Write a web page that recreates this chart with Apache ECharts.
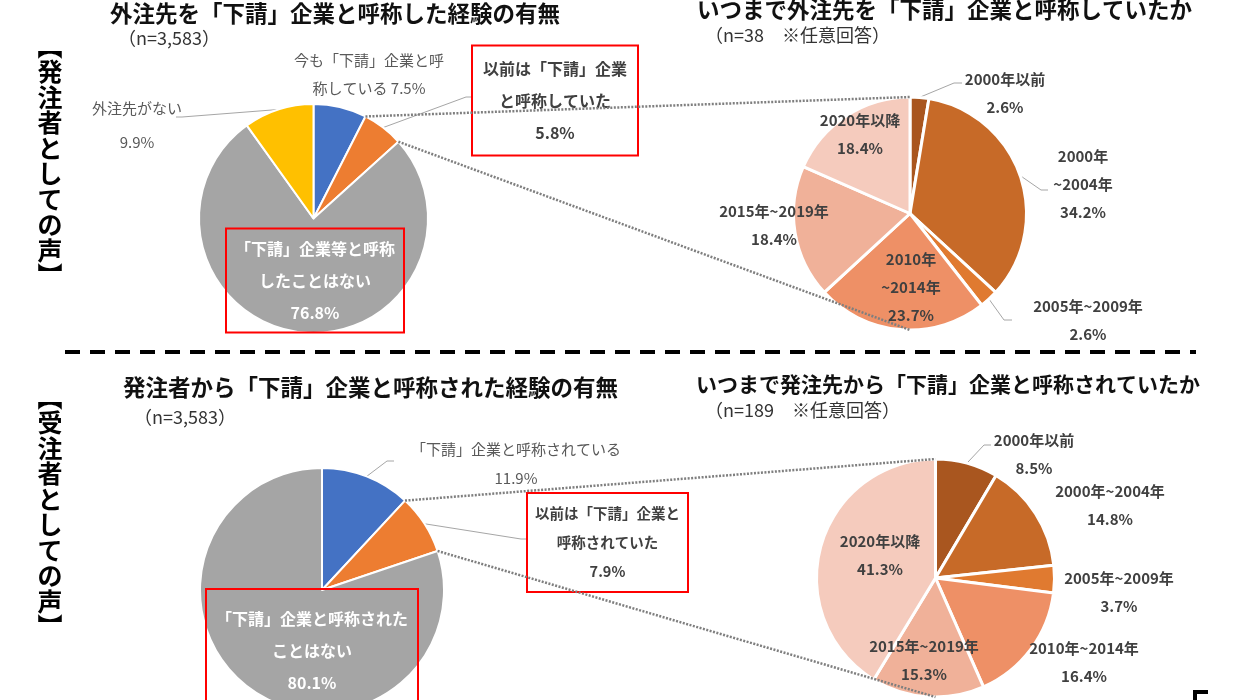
<!DOCTYPE html>
<html>
<head>
<meta charset="utf-8">
<script src="https://cdn.jsdelivr.net/npm/echarts@6/dist/echarts.min.js"></script>
<style>
  html, body { margin: 0; background: #fff; }
  #main { width: 1238px; height: 700px; }
</style>
</head>
<body>
<div id="main"></div>
<script>
var FONT = '"Noto Sans CJK JP", sans-serif';

// 発注者として: 「下請」と呼称した経験
var orderNames = ['今も「下請」企業と呼称している', '以前は「下請」企業と呼称していた', '「下請」企業等と呼称したことはない', '外注先がない'];
var orderValues = [7.5, 5.8, 76.8, 9.9];
var orderLabels = ['今も「下請」企業と呼\n称している ', '以前は「下請」企業\nと呼称していた\n', '「下請」企業等と呼称\nしたことはない\n', '外注先がない\n'];

// いつまで呼称していたか (n=38)
var periodNames = ['2000年以前', '2000年~2004年', '2005年~2009年', '2010年~2014年', '2015年~2019年', '2020年以降'];
var orderPeriodValues = [2.6, 34.2, 2.6, 23.7, 18.4, 18.4];
var orderPeriodLabels = ['2000年以前\n', '2000年\n~2004年\n', '2005年~2009年\n', '2010年\n~2014年\n', '2015年~2019年\n', '2020年以降\n'];

// 受注者として: 呼称された経験
var recvNames = ['「下請」企業と呼称されている', '以前は「下請」企業と呼称されていた', '「下請」企業と呼称されたことはない'];
var recvValues = [11.9, 7.9, 80.1];
var recvLabels = ['「下請」企業と呼称されている\n', '以前は「下請」企業と\n呼称されていた\n', '「下請」企業と呼称された\nことはない\n'];

// いつまで呼称されていたか (n=189)
var recvPeriodValues = [8.5, 14.8, 3.7, 16.4, 15.3, 41.3];
var recvPeriodLabels = ['2000年以前\n', '2000年~2004年\n', '2005年~2009年\n', '2010年~2014年\n', '2015年~2019年\n', '2020年以降\n'];

var mainColors = ['#4472C4', '#ED7D31', '#A5A5A5', '#FFC000'];
var periodColors = ['#A9561F', '#C76A28', '#E07A30', '#EE9066', '#F0B199', '#F5CBBD'];

// layout of each pie (positions only)
var layTL = { cx: 313.5, cy: 218.5, r: 114.5,
  labels: [[369, 74], [555, 100.5], [315, 280.5], [137, 125]],
  lines: [null, [[466, 97], [473, 97]], null, [[182, 117], [176, 117]]] };
var layTR = { cx: 910, cy: 213.5, r: 116.5,
  labels: [[1005, 93], [1083, 184], [1088, 320.5], [911, 287], [774, 225.5], [860, 134.5]],
  lines: [[[954, 83], [962, 83]], [[1041, 190], [1048, 190]], [[1004, 320], [1012, 320]], null, null, null] };
var layBL = { cx: 322, cy: 590, r: 122,
  labels: [[516, 463.5], [607.5, 542.5], [312, 651]],
  lines: [[[387, 461], [394, 461]], [[521, 539], [528, 539]], null] };
var layBR = { cx: 935.5, cy: 578, r: 119,
  labels: [[1034, 454], [1110, 505], [1119, 592], [1084, 662], [924, 660], [880, 555]],
  lines: [[[984, 445], [991, 445]], null, null, null, null, null] };

function sum(a) { return a.reduce(function (s, v) { return s + v; }, 0); }

// point on the rim at a fraction of the whole (clockwise from 12 o'clock)
function rimPoint(lay, frac) {
  var ang = -Math.PI / 2 + frac * Math.PI * 2;
  return [lay.cx + lay.r * Math.cos(ang), lay.cy + lay.r * Math.sin(ang)];
}
function midPoint(values, i, lay) {
  var before = sum(values.slice(0, i));
  return rimPoint(lay, (before + values[i] / 2) / sum(values));
}

var normalGray = { color: '#595959', fontSize: 15, fontWeight: 'normal', lineHeight: 28 };
var boldDark = { color: '#404040', fontSize: 15, fontWeight: 'bold', lineHeight: 28 };

function pieSeries(names, values, texts, colors, lay, border, labelBase, itemLabels) {
  return {
    type: 'pie',
    center: [lay.cx, lay.cy],
    radius: lay.r,
    startAngle: 90,
    clockwise: true,
    avoidLabelOverlap: false,
    animation: false,
    itemStyle: { borderColor: '#fff', borderWidth: border },
    label: Object.assign({ show: true, position: 'outside', overflow: 'none', fontFamily: FONT,
      formatter: function (p) { return texts[p.dataIndex] + values[p.dataIndex].toFixed(1) + '%'; } }, labelBase),
    labelLine: { show: true, length: 5, length2: 5, lineStyle: { color: '#A6A6A6', width: 1 } },
    labelLayout: function (p) {
      var i = p.dataIndex;
      var pos = lay.labels[i];
      var out = { x: pos[0], y: pos[1], align: 'center', verticalAlign: 'middle' };
      if (lay.lines[i]) {
        out.labelLinePoints = [midPoint(values, i, lay), lay.lines[i][0], lay.lines[i][1]];
      }
      return out;
    },
    data: values.map(function (v, i) {
      var d = { name: names[i], value: v, itemStyle: { color: colors[i] } };
      if (itemLabels && itemLabels[i]) d.label = itemLabels[i];
      if (!lay.lines[i]) d.labelLine = { show: false };
      return d;
    })
  };
}

var redBox = { borderColor: '#FF0000', borderWidth: 2 };

var series = [
  pieSeries(orderNames, orderValues, orderLabels, mainColors, layTL, 2, normalGray, [
    null,
    Object.assign({ color: '#404040', fontWeight: 'bold', fontSize: 16, lineHeight: 32, width: 154,
      padding: [6, 5], backgroundColor: '#fff', align: 'center' }, redBox),
    Object.assign({ color: '#fff', fontWeight: 'bold', fontSize: 16, lineHeight: 32, width: 168,
      padding: [4, 5], align: 'center' }, redBox),
    { lineHeight: 34 }
  ]),
  pieSeries(periodNames, orderPeriodValues, orderPeriodLabels, periodColors, layTR, 3, boldDark, null),
  pieSeries(recvNames, recvValues, recvLabels, mainColors, layBL, 2, normalGray, [
    { lineHeight: 29 },
    Object.assign({ color: '#404040', fontWeight: 'bold', fontSize: 14.5, lineHeight: 29, width: 149,
      padding: [5, 5], backgroundColor: '#fff', align: 'center' }, redBox),
    Object.assign({ color: '#fff', fontWeight: 'bold', fontSize: 16, lineHeight: 32, width: 202,
      padding: [8, 5, 20, 5], align: 'center' }, redBox)
  ]),
  pieSeries(periodNames, recvPeriodValues, recvPeriodLabels, periodColors, layBR, 3, boldDark, null)
];

// dotted connectors from the "以前は" slice to the breakdown pie
function connectors(values, idx, from, to) {
  var total = sum(values);
  var before = sum(values.slice(0, idx));
  var a = rimPoint(from, before / total);
  var b = rimPoint(from, (before + values[idx]) / total);
  var st = { stroke: '#7F7F7F', lineWidth: 2.5, lineDash: [2, 1.5] };
  return [
    { type: 'line', z: 100, shape: { x1: a[0], y1: a[1], x2: to.cx, y2: to.cy - to.r }, style: st },
    { type: 'line', z: 100, shape: { x1: b[0], y1: b[1], x2: to.cx, y2: to.cy + to.r }, style: st }
  ];
}

function txt(x, y, text, size, weight, color, extra) {
  return Object.assign({ type: 'text', x: x, y: y, z: 50,
    style: Object.assign({ text: text, fontFamily: FONT, fontSize: size, fontWeight: weight,
      fill: color, textAlign: 'left', textVerticalAlign: 'middle' }, extra || {}) });
}

var vertical = { textAlign: 'center', lineHeight: 25.5 };

var graphics = [
  txt(110, 13, '外注先を「下請」企業と呼称した経験の有無', 22.5, 'bold', '#111'),
  txt(118, 38, '（n=3,583）', 18, 'normal', '#333'),
  txt(697, 9, 'いつまで外注先を「下請」企業と呼称していたか', 22.5, 'bold', '#111'),
  txt(705, 35, '（n=38　※任意回答）', 18, 'normal', '#333'),
  txt(123, 387, '発注者から「下請」企業と呼称された経験の有無', 22.5, 'bold', '#111'),
  txt(134, 417, '（n=3,583）', 18, 'normal', '#333'),
  txt(696, 384, 'いつまで発注先から「下請」企業と呼称されていたか', 21, 'bold', '#111'),
  txt(705, 410, '（n=189　※任意回答）', 18, 'normal', '#333'),
  txt(50, 161, '︻\n発\n注\n者\nと\nし\nて\nの\n声\n︼', 25, 'bold', '#000', vertical),
  txt(50, 512, '︻\n受\n注\n者\nと\nし\nて\nの\n声\n︼', 25, 'bold', '#000', vertical),
  { type: 'line', shape: { x1: 65, y1: 352, x2: 1196, y2: 352 },
    style: { stroke: '#000', lineWidth: 4, lineDash: [15, 10] } },
  { type: 'polyline', shape: { points: [[1195, 702], [1195, 692], [1208, 692]] },
    style: { stroke: '#000', lineWidth: 4, fill: null } }
].concat(connectors(orderValues, 1, layTL, layTR), connectors(recvValues, 1, layBL, layBR));

var chart = echarts.init(document.getElementById('main'));
chart.setOption({
  backgroundColor: '#fff',
  textStyle: { fontFamily: FONT },
  series: series,
  graphic: graphics
});
</script>
</body>
</html>
